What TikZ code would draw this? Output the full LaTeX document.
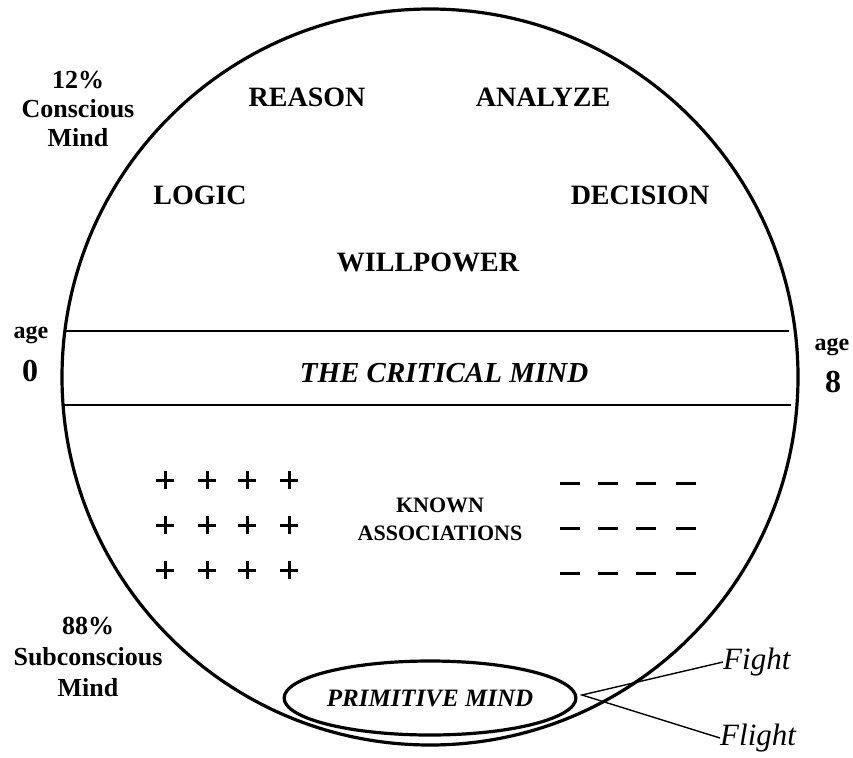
\documentclass[tikz,border=0pt]{standalone}
\usepackage{fontspec}
\setmainfont{Liberation Serif}
\usetikzlibrary{shapes.geometric}
\begin{document}
\begin{tikzpicture}[x=1pt,y=-1pt,
  word/.style={font=\fontsize{28}{30}\selectfont\bfseries, inner sep=0pt},
  sidelbl/.style={font=\fontsize{26}{29}\selectfont\bfseries, align=center, inner sep=0pt},
  agelbl/.style={font=\fontsize{24}{26}\selectfont\bfseries, inner sep=0pt},
  agenum/.style={font=\fontsize{32}{34}\selectfont\bfseries, inner sep=0pt},
  critical/.style={font=\fontsize{29}{31}\selectfont\bfseries\itshape, inner sep=0pt},
  assoc/.style={font=\fontsize{22}{28}\selectfont\bfseries, align=center, inner sep=0pt},
  fightlbl/.style={font=\fontsize{31}{33}\selectfont\itshape, inner sep=0pt},
  thick line/.style={line width=3.2pt},
  thin line/.style={line width=1.4pt},
  mark stroke/.style={line width=3pt}
]
\useasboundingbox (0,0) rectangle (853,757);

% main circle
\node[circle, draw, thick line, minimum size=736pt, inner sep=0pt] (mind) at (430,377) {};

% critical mind band
\coordinate (bandTL) at (65,331);
\coordinate (bandTR) at (789,331);
\coordinate (bandBL) at (63,405);
\coordinate (bandBR) at (791,405);
\draw[thin line] (bandTL) -- (bandTR);
\draw[thin line] (bandBL) -- (bandBR);
\node[critical] (critical) at (444,373) {THE CRITICAL MIND};

% conscious words
\node[word] (reason) at (307,97) {REASON};
\node[word] (analyze) at (543,97) {ANALYZE};
\node[word] (logic) at (200,195) {LOGIC};
\node[word] (decision) at (640,195) {DECISION};
\node[word] (willpower) at (428,262) {WILLPOWER};

% side labels
\node[sidelbl] (conscious) at (78,109) {12\%\\Conscious\\Mind};
\node[sidelbl, font=\fontsize{26}{31}\selectfont\bfseries] (subconscious) at (88,657) {88\%\\Subconscious\\Mind};

\node[agelbl] (ageL) at (31,335) {age};
\node[agenum] (zero) at (30,371) {0};
\node[agelbl] (ageR) at (832,347) {age};
\node[agenum] (eight) at (833,382) {8};

% known associations
\node[assoc] (known) at (440,519) {KNOWN\\ASSOCIATIONS};
\foreach \x in {165,207,247,289}
  \foreach \y in {480,525,570}
    \draw[mark stroke] (\x-9,\y) -- (\x+9,\y) (\x,\y-9) -- (\x,\y+9);
\foreach \x in {570,608,646,686}
  \foreach \y in {483,528,573}
    \draw[mark stroke] (\x-10,\y) -- (\x+10,\y);

% primitive mind
\node[ellipse, draw, thick line, minimum width=284pt, minimum height=74pt, inner sep=0pt,
      font=\fontsize{25}{27}\selectfont\bfseries\itshape] (primitive) at (430,698) {PRIMITIVE MIND};

% fight / flight
\coordinate (fork) at (582,695);
\node[fightlbl, anchor=west] (fight) at (723,662) {Fight};
\node[fightlbl, anchor=west] (flight) at (720,738) {Flight};
\draw[thin line] (fight.west) -- (fork) -- (flight.west);
\end{tikzpicture}
\end{document}
